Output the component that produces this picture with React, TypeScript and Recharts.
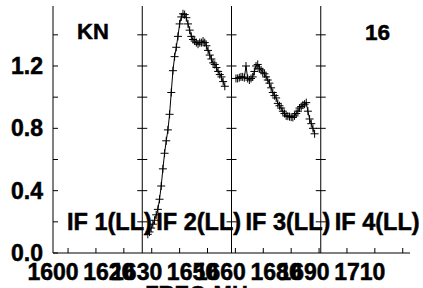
import React from 'react';
import {
  ComposedChart,
  Line,
  Scatter,
  XAxis,
  YAxis,
  ReferenceLine,
  ReferenceArea,
  Label,
} from 'recharts';

// ---------- data ----------
const panelEdges = [1600, 1632, 1664, 1696, 1728];
const panelNames = ['IF 1(LL)', 'IF 2(LL)', 'IF 3(LL)', 'IF 4(LL)'];
const sourceName = 'KN';
const plotNumber = '16';
const xAxisTitle = 'FREQ-MHz';

const xLabelTicks = [1600, 1620, 1630, 1650, 1660, 1680, 1690, 1710];
const xMinorTicks = [
  1605.4, 1615.4, 1625.4, 1635.4, 1645.4, 1655.4, 1665.4, 1675.4, 1685.4,
  1695.4, 1705.4, 1715.4, 1725.4,
];
const yLabelTicks = [0, 0.4, 0.8, 1.2];
const yAllTicks = [0, 0.2, 0.4, 0.6, 0.8, 1.0, 1.2, 1.4];
const yDomain = [0, 1.585];

const if2Freq = [
  1634.0, 1634.6, 1635.2, 1635.8, 1636.4, 1637.0, 1637.6, 1638.2, 1638.8, 1639.4,
  1640.0, 1640.6, 1641.2, 1641.8, 1642.4, 1643.0, 1643.6, 1644.2, 1644.8, 1645.4,
  1646.0, 1646.6, 1647.2, 1647.8, 1648.4, 1649.0, 1649.6, 1650.2, 1650.8, 1651.4,
  1652.0, 1652.6, 1653.2, 1653.8, 1654.4, 1655.0, 1655.6, 1656.2, 1656.8, 1657.4,
  1658.0, 1658.6, 1659.2, 1659.8, 1660.4, 1661.0, 1661.6,
];
const if2Amp = [
  0.12, 0.135, 0.16, 0.185, 0.21, 0.245, 0.28, 0.345, 0.43, 0.54,
  0.64, 0.72, 0.79, 0.89, 1.03, 1.17, 1.26, 1.32, 1.39, 1.47,
  1.515, 1.535, 1.53, 1.51, 1.47, 1.43, 1.39, 1.37, 1.36, 1.35,
  1.34, 1.35, 1.35, 1.36, 1.35, 1.33, 1.3, 1.27, 1.245, 1.22,
  1.21, 1.19, 1.165, 1.145, 1.13, 1.1, 1.07,
];

const if3Freq = [
  1665.6, 1666.2, 1666.8, 1667.4, 1668.0, 1668.6, 1669.2, 1669.8, 1670.4, 1671.0,
  1671.6, 1672.2, 1672.8, 1673.4, 1674.0, 1674.6, 1675.2, 1675.8, 1676.4, 1677.0,
  1677.6, 1678.2, 1678.8, 1679.4, 1680.0, 1680.6, 1681.2, 1681.8, 1682.4, 1683.0,
  1683.6, 1684.2, 1684.8, 1685.4, 1686.0, 1686.6, 1687.2, 1687.8, 1688.4, 1689.0,
  1689.6, 1690.2, 1690.8, 1691.4, 1692.0, 1692.6, 1693.2, 1693.8,
];
const if3Amp = [
  1.12, 1.12, 1.125, 1.13, 1.13, 1.125, 1.2, 1.12, 1.11, 1.12,
  1.13, 1.165, 1.2, 1.21, 1.185, 1.175, 1.16, 1.15, 1.13, 1.11,
  1.09, 1.06, 1.03, 1.01, 0.995, 0.96, 0.945, 0.93, 0.91, 0.895,
  0.88, 0.878, 0.875, 0.872, 0.87, 0.88, 0.895, 0.91, 0.93, 0.94,
  0.95, 0.955, 0.965, 0.91, 0.86, 0.83, 0.8, 0.765,
];

const if2Data = if2Freq.map((f, i) => ({ freq: f, amp: if2Amp[i] }));
const if3Data = if3Freq.map((f, i) => ({ freq: f, amp: if3Amp[i] }));
const dividerTicks = panelEdges
  .slice(1, -1)
  .flatMap((f) => yAllTicks.slice(1).map((v) => ({ freq: f, amp: v })));

// ---------- styling ----------
const FONT = "'Liberation Sans', Arial, Helvetica, sans-serif";
const INK = '#000';
const textStyle = {
  fontFamily: FONT,
  fontWeight: 'bold' as const,
  fill: INK,
  stroke: INK,
  strokeWidth: 0.5,
};

const PlusDot = (props: any) => {
  const { cx, cy } = props;
  if (cx == null || cy == null) return null;
  return (
    <path
      d={`M${cx - 4},${cy}H${cx + 4}M${cx},${cy - 4}V${cy + 4}`}
      stroke={INK}
      strokeWidth={1}
      fill="none"
    />
  );
};

const CrossTick = (props: any) => {
  const { cx, cy } = props;
  return <path d={`M${cx - 5},${cy}H${cx + 5}`} stroke={INK} strokeWidth={1} />;
};

const BottomTick = (props: any) => {
  const { x, y, payload } = props;
  const v = payload.value;
  if (xLabelTicks.includes(v)) {
    return (
      <text x={x} y={y + 27} textAnchor="middle" fontSize={23} {...textStyle}>
        {v}
      </text>
    );
  }
  return <line x1={x} x2={x} y1={y} y2={y - 5} stroke={INK} strokeWidth={1} />;
};

const TopTick = (props: any) => {
  const { x, y } = props;
  return <line x1={x} x2={x} y1={y} y2={y + 5} stroke={INK} strokeWidth={1} />;
};

const LeftTick = (props: any) => {
  const { x, y, payload } = props;
  const v = payload.value;
  return (
    <g>
      <line x1={x} x2={x + 5} y1={y} y2={y} stroke={INK} strokeWidth={1} />
      {yLabelTicks.includes(v) && (
        <text x={x - 10} y={y + 8} textAnchor="end" fontSize={23} {...textStyle}>
          {v.toFixed(1)}
        </text>
      )}
    </g>
  );
};

const RightTick = (props: any) => {
  const { x, y } = props;
  return <line x1={x} x2={x - 5} y1={y} y2={y} stroke={INK} strokeWidth={1} />;
};

const panelLabel = (i: number) => (props: any) => {
  const vb = props.viewBox;
  if (!vb) return null;
  return (
    <g>
      <text x={vb.x + 14} y={vb.y + vb.height - 23} fontSize={23.5} {...textStyle}>
        {panelNames[i]}
      </text>
      {i === 0 && (
        <text x={vb.x + 24} y={vb.y + 32.5} fontSize={22} {...textStyle}>
          {sourceName}
        </text>
      )}
      {i === panelNames.length - 1 && (
        <text x={vb.x + vb.width - 20} y={vb.y + 33.5} textAnchor="end" fontSize={22.5} {...textStyle}>
          {plotNumber}
        </text>
      )}
    </g>
  );
};

const axisTitle = (props: any) => {
  const vb = props.viewBox;
  if (!vb) return null;
  return (
    <text x={vb.x + vb.width / 2 - 29.5} y={vb.y + 48} textAnchor="middle" fontSize={22} {...textStyle}>
      {xAxisTitle}
    </text>
  );
};

export default function App() {
  return (
    <div style={{ position: 'absolute', left: 0, top: 0, width: 423, height: 288, background: '#fff' }}>
      <ComposedChart width={423} height={288} margin={{ top: 6, right: 13, bottom: 0, left: 8 }}>
        <XAxis
          xAxisId="b"
          dataKey="freq"
          type="number"
          domain={[panelEdges[0], panelEdges[panelEdges.length - 1]]}
          allowDataOverflow
          ticks={[...xMinorTicks, ...xLabelTicks]}
          interval={0}
          height={35}
          tickSize={0}
          tickMargin={0}
          tickLine={false}
          axisLine={{ stroke: INK, strokeWidth: 1 }}
          tick={<BottomTick />}
        >
          <Label content={axisTitle} />
        </XAxis>
        <XAxis
          xAxisId="t"
          orientation="top"
          dataKey="freq"
          type="number"
          domain={[panelEdges[0], panelEdges[panelEdges.length - 1]]}
          allowDataOverflow
          ticks={xMinorTicks}
          interval={0}
          height={0}
          tickSize={0}
          tickMargin={0}
          tickLine={false}
          axisLine={{ stroke: INK, strokeWidth: 1 }}
          tick={<TopTick />}
        />
        <YAxis
          yAxisId="l"
          type="number"
          domain={yDomain}
          allowDataOverflow
          ticks={yAllTicks}
          interval={0}
          width={45}
          tickSize={0}
          tickMargin={0}
          tickLine={false}
          axisLine={{ stroke: INK, strokeWidth: 1 }}
          tick={<LeftTick />}
        />
        <YAxis
          yAxisId="r"
          orientation="right"
          type="number"
          domain={yDomain}
          allowDataOverflow
          ticks={yAllTicks}
          interval={0}
          width={0}
          tickSize={0}
          tickMargin={0}
          tickLine={false}
          axisLine={{ stroke: INK, strokeWidth: 1 }}
          tick={<RightTick />}
        />
        {panelNames.map((name, i) => (
          <ReferenceArea
            key={name}
            xAxisId="b"
            yAxisId="l"
            x1={panelEdges[i]}
            x2={panelEdges[i + 1]}
            y1={yDomain[0]}
            y2={yDomain[1]}
            fill="none"
            fillOpacity={0}
            stroke="none"
            ifOverflow="visible"
          >
            <Label content={panelLabel(i)} />
          </ReferenceArea>
        ))}
        {panelEdges.slice(1, -1).map((f) => (
          <ReferenceLine key={f} xAxisId="b" yAxisId="l" x={f} stroke={INK} strokeWidth={1} />
        ))}
        <Scatter
          xAxisId="b"
          yAxisId="l"
          data={dividerTicks}
          dataKey="amp"
          shape={<CrossTick />}
          isAnimationActive={false}
        />
        <Line
          xAxisId="b"
          yAxisId="l"
          data={if2Data}
          dataKey="amp"
          type="linear"
          stroke={INK}
          strokeWidth={1}
          dot={<PlusDot />}
          activeDot={false}
          isAnimationActive={false}
        />
        <Line
          xAxisId="b"
          yAxisId="l"
          data={if3Data}
          dataKey="amp"
          type="linear"
          stroke={INK}
          strokeWidth={1}
          dot={<PlusDot />}
          activeDot={false}
          isAnimationActive={false}
        />
      </ComposedChart>
    </div>
  );
}
